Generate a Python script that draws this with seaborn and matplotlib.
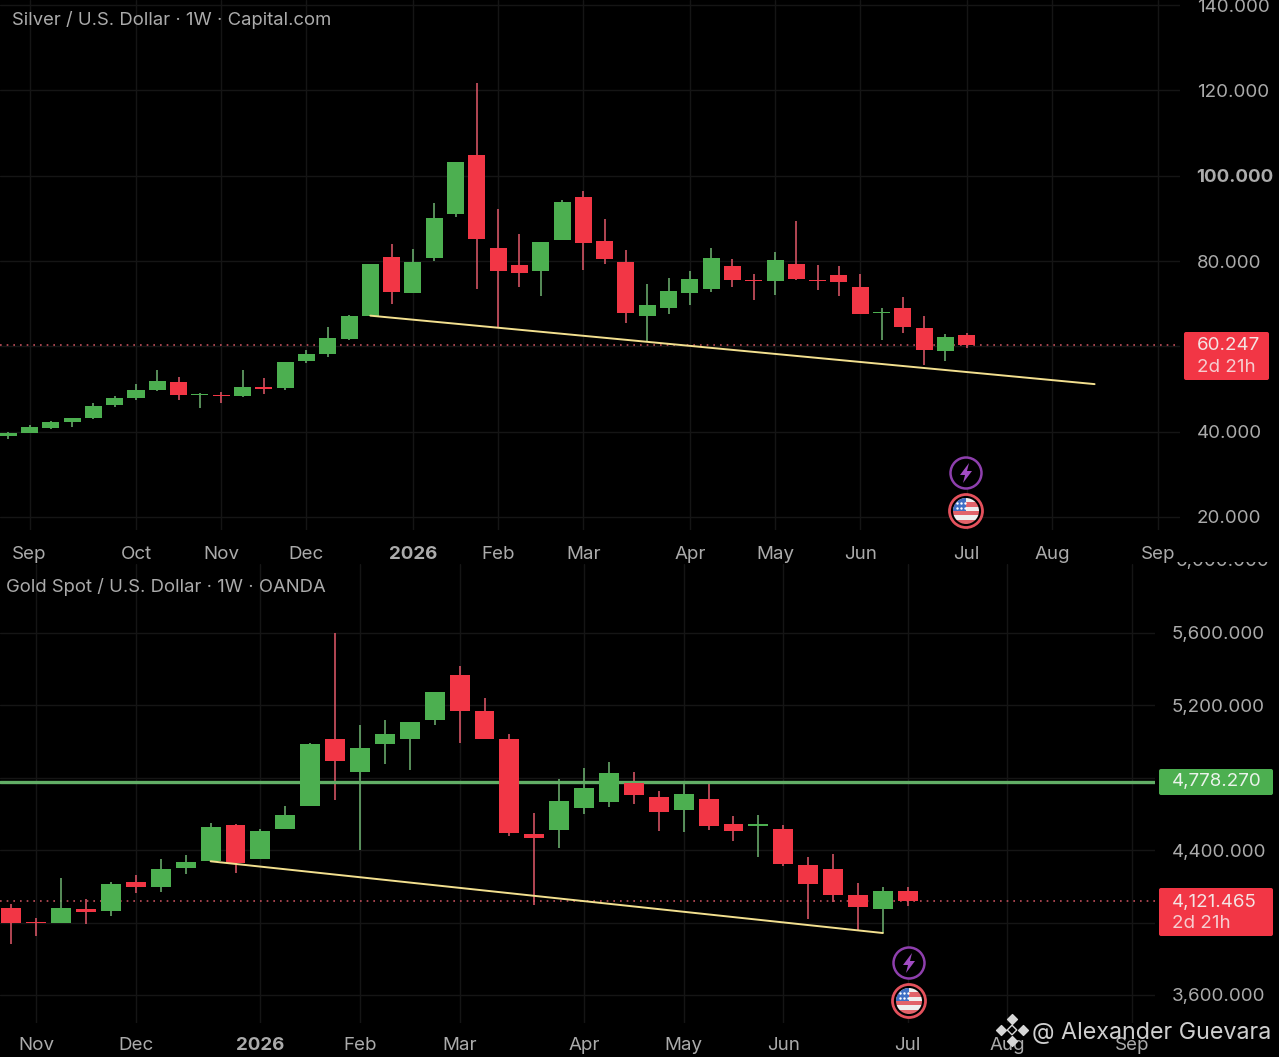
import pandas as pd
import seaborn as sns
from matplotlib import pyplot as plt
from matplotlib.patches import Circle, FancyBboxPatch, Polygon, Rectangle
from matplotlib.ticker import FixedFormatter, FixedLocator
from matplotlib.transforms import Bbox, TransformedBbox

# silver, weekly
silver_open = [38.97, 39.75, 40.84, 42.17, 43.10, 46.15, 47.87, 49.74, 51.69, 48.57, 48.57, 48.26,
               50.36, 50.13, 56.61, 58.25, 61.68, 67.22, 81.04, 72.53, 80.65, 91.11, 104.77, 83.15,
               79.01, 77.69, 84.95, 95.02, 84.71, 79.87, 67.15, 69.03, 72.46, 73.55, 78.94, 75.66,
               75.43, 79.41, 75.66, 76.75, 74.02, 67.85, 69.10, 64.19, 58.80, 62.55]
silver_close = [39.67, 41.07, 42.17, 43.10, 46.07, 47.94, 49.82, 51.77, 48.57, 48.88, 48.26, 50.44,
                49.90, 56.37, 58.25, 61.99, 67.15, 79.25, 72.77, 79.87, 90.10, 103.21, 85.18, 77.76,
                77.30, 84.56, 93.84, 84.32, 80.57, 67.93, 69.73, 73.01, 75.90, 80.74, 75.58, 75.35,
                80.27, 75.82, 75.43, 75.11, 67.70, 68.17, 64.65, 59.19, 62.31, 60.25]
silver_high = [39.98, 41.46, 42.40, 43.26, 46.62, 48.33, 51.14, 54.50, 52.78, 49.11, 49.27, 54.42,
               52.47, 56.37, 59.26, 64.57, 67.38, 79.25, 83.93, 82.84, 93.61, 103.21, 121.71, 92.28,
               86.35, 84.56, 94.24, 96.34, 89.94, 82.60, 74.57, 76.13, 77.69, 83.00, 80.58, 76.99,
               82.06, 89.40, 79.02, 78.86, 76.99, 68.95, 71.60, 67.07, 62.86, 63.17]
silver_low = [38.19, 39.67, 40.61, 41.00, 43.03, 45.84, 47.40, 49.58, 47.48, 45.60, 46.77, 48.18,
              48.72, 49.66, 56.14, 57.55, 61.60, 67.15, 70.04, 72.45, 79.95, 90.41, 73.55, 64.41,
              73.86, 71.83, 84.87, 78.00, 79.40, 65.51, 61.06, 67.70, 69.81, 72.69, 73.94, 70.82,
              72.15, 75.66, 73.16, 71.84, 67.62, 61.45, 63.25, 55.60, 56.54, 59.50]
silver_months = ['Sep', 'Oct', 'Nov', 'Dec', '2026', 'Feb', 'Mar', 'Apr', 'May', 'Jun', 'Jul', 'Aug', 'Sep']
silver_month_pos = [1, 6, 10, 14, 19, 23, 27, 32, 36, 40, 45, 49, 54]
silver_grid = [20, 40, 60, 80, 100, 120, 140]
silver_labels = ['20.000', '40.000', '', '80.000', '100.000', '120.000', '140.000']
silver_trend_x = [17, 51]
silver_trend_y = [67.2, 51.15]
silver_last = 60.247

# gold, weekly
gold_open = [4082, 4003, 3999, 4077, 4064, 4224, 4194, 4299, 4338, 4540, 4351, 4516, 4645, 5013, 4829,
             4986, 5011, 5116, 5366, 5170, 5011, 4489, 4508, 4632, 4664, 4772, 4691, 4620, 4680, 4543,
             4535, 4517, 4317, 4297, 4153, 4074, 4175]
gold_close = [3997, 3996, 4082, 4060, 4213, 4194, 4296, 4334, 4529, 4327, 4507, 4592, 4984, 4890, 4962,
              5039, 5105, 5274, 5166, 5015, 4492, 4468, 4673, 4742, 4826, 4702, 4610, 4709, 4535, 4504,
              4543, 4321, 4215, 4153, 4085, 4173, 4121]
gold_high = [4102, 4027, 4244, 4130, 4224, 4261, 4351, 4373, 4548, 4544, 4514, 4641, 4989, 5600, 5089,
             5118, 5105, 5274, 5416, 5238, 5043, 4603, 4794, 4852, 4885, 4830, 4726, 4766, 4762, 4587,
             4592, 4541, 4363, 4380, 4220, 4195, 4198]
gold_low = [3883, 3926, 3997, 3992, 4036, 4161, 4167, 4268, 4336, 4272, 4349, 4514, 4643, 4676, 4400,
            4875, 4840, 5089, 4993, 5011, 4476, 4097, 4414, 4598, 4640, 4653, 4504, 4499, 4508, 4449,
            4363, 4312, 4021, 4116, 3960, 3942, 4092]
gold_months = ['Nov', 'Dec', '2026', 'Feb', 'Mar', 'Apr', 'May', 'Jun', 'Jul', 'Aug', 'Sep']
gold_month_pos = [1, 5, 10, 14, 18, 23, 27, 31, 36, 40, 45]
gold_grid = [3600, 4000, 4400, 4800, 5200, 5600]
gold_labels = ['3,600.000', '', '4,400.000', '', '5,200.000', '5,600.000']
gold_trend_x = [8, 35]
gold_trend_y = [4338, 3942]
gold_last = 4121.465
gold_level = 4778.27

GREEN = '#4CAF50'
RED = '#F23645'
GREY = '#ABABAB'
TICK_SIZE = 13.5
W, H = 1279, 1057

sns.set_theme(style='dark', rc={'figure.facecolor': 'black', 'axes.facecolor': 'black', 'savefig.facecolor': 'black'})
plt.rcParams['font.family'] = ['Inter', 'DejaVu Sans']

fig = plt.figure(figsize=(W / 100, H / 100), dpi=100)


def panel(x1, y0, y1, xlim, ylim):
    # axes position given in pixels from the top left
    ax = fig.add_axes([0, 1 - y1 / H, x1 / W, (y1 - y0) / H])
    ax.set_xlim(*xlim)
    ax.set_ylim(*ylim)
    return ax


def candles(ax, o, c, h, l):
    df = pd.DataFrame({'week': range(len(o)), 'open': o, 'close': c, 'high': h, 'low': l})
    df['top'] = df[['open', 'close']].max(axis=1)
    df['bottom'] = df[['open', 'close']].min(axis=1)
    df['size'] = df['top'] - df['bottom']
    xlim, ylim = ax.get_xlim(), ax.get_ylim()
    for up, color, wick in [(True, GREEN, '#6FB572'), (False, RED, '#E2596A')]:
        part = df[(df['close'] >= df['open']) == up]
        ax.vlines(part['week'], part['low'], part['high'], color=wick, lw=1.1, zorder=3)
        sns.barplot(data=part, x='week', y='size', bottom=part['bottom'].values, native_scale=True,
                    color=color, saturation=1, width=0.8, errorbar=None, ax=ax, zorder=4, linewidth=0)
    ax.set_xlim(*xlim)
    ax.set_ylim(*ylim)


def dress(ax, months, month_pos, grid, labels, xpad):
    ax.yaxis.tick_right()
    ax.yaxis.set_major_locator(FixedLocator(grid))
    ax.yaxis.set_major_formatter(FixedFormatter(labels))
    ax.set_xticks(month_pos, months)
    ax.set_xlabel('')
    ax.set_ylabel('')
    ax.grid(True, color='#151515', lw=1.0)
    ax.set_axisbelow(True)
    ax.tick_params(axis='y', length=0, pad=12, labelsize=TICK_SIZE, labelcolor=GREY, right=False, labelright=True)
    ax.tick_params(axis='x', length=0, pad=xpad, labelsize=TICK_SIZE, labelcolor=GREY)
    for lab in ax.get_xticklabels() + ax.get_yticklabels():
        if lab.get_text() in ('2026', '100.000'):
            lab.set_fontweight('bold')
    sns.despine(ax=ax, left=True, bottom=True, top=True, right=True)


# silver panel
ax1 = panel(1180, 0, 530, (-0.385, 55.01), (16.95, 141.2))
candles(ax1, silver_open, silver_close, silver_high, silver_low)
dress(ax1, silver_months, silver_month_pos, silver_grid, silver_labels, 11.5)
ax1.axhline(silver_last, color='#C4505C', lw=1.2, ls=(0, (1, 3)), zorder=2)
sns.lineplot(x=silver_trend_x, y=silver_trend_y, color='#F3E08F', lw=1.4, ax=ax1, zorder=5)
ax1.set_xlabel('')
ax1.set_ylabel('')

# gold panel
ax2 = panel(1155, 564, 1023, (-0.46, 45.93), (3445.4, 5979))
candles(ax2, gold_open, gold_close, gold_high, gold_low)
dress(ax2, gold_months, gold_month_pos, gold_grid, gold_labels, 10)
ax2.axhline(gold_last, color='#C4505C', lw=1.2, ls=(0, (1, 3)), zorder=2)
ax2.axhline(gold_level, color='#62AE66', lw=2.4, zorder=3.5)
sns.lineplot(x=gold_trend_x, y=gold_trend_y, color='#F3E08F', lw=1.4, ax=ax2, zorder=5)
ax2.set_xlabel('')
ax2.set_ylabel('')

# pixel overlay for the price tags, titles and icons
ov = fig.add_axes([0, 0, 1, 1], facecolor='none')
ov.set_xlim(0, W)
ov.set_ylim(H, 0)
ov.axis('off')


def y_of(ax, value):
    return H - ax.transData.transform((0, value))[1]


def tag(x0, x1, y0, y1, color):
    ov.add_patch(FancyBboxPatch((x0 + 2, y0 + 2), x1 - x0 - 4, y1 - y0 - 4, boxstyle='round,pad=2',
                                fc=color, ec='none', zorder=6))


tag(1184, 1269, 332, 380, RED)
ov.text(1197, 346, '60.247', color='#F4E3E3', fontsize=TICK_SIZE, va='center', zorder=7)
ov.text(1197, 368, '2d 21h', color='#F6CDD0', fontsize=TICK_SIZE, va='center', zorder=7)
tag(1159, 1273, 769, 795, GREEN)
ov.text(1172, y_of(ax2, gold_level), '4,778.270', color='#EAF3EA', fontsize=TICK_SIZE, va='center', zorder=7)
tag(1159, 1273, 888, 936, RED)
ov.text(1172, 902.5, '4,121.465', color='#F4E3E3', fontsize=TICK_SIZE, va='center', zorder=7)
ov.text(1172, 923, '2d 21h', color='#F6CDD0', fontsize=TICK_SIZE, va='center', zorder=7)

ov.text(12, 20, 'Silver / U.S. Dollar · 1W · Capital.com', color=GREY, fontsize=13.3, va='center')
ov.text(6, 587, 'Gold Spot / U.S. Dollar · 1W · OANDA', color=GREY, fontsize=13.3, va='center')

# label of the 6,000 gold level, cut off by the silver panel
cut = ov.text(1176, y_of(ax2, 6000) + 1, '6,000.000', color=GREY, fontsize=TICK_SIZE, va='center', clip_on=True)
cut.set_clip_box(TransformedBbox(Bbox([[0, 0], [1, 1 - 562 / H]]), fig.transFigure))


def icons(cx, cy_bolt, cy_flag):
    ov.add_patch(Circle((cx, cy_bolt), 15.5, fc='black', ec='#8E3FAD', lw=1.8, zorder=6))
    bolt = [(3, -10), (-6, 2), (-1, 2), (-3, 10), (6, -2), (1, -2)]
    ov.add_patch(Polygon([(cx + a, cy_bolt + b) for a, b in bolt], fc='#A24CC4', ec='none', zorder=7))
    ov.add_patch(Circle((cx, cy_flag), 16.5, fc='black', ec='#E4515C', lw=2.0, zorder=6))
    clip = Circle((cx, cy_flag), 13, transform=ov.transData)
    for k in range(6):
        stripe = Rectangle((cx - 13, cy_flag - 13 + k * 26 / 6), 26, 26 / 6,
                           fc='#E2636A' if k % 2 else '#EFEFEF', ec='none', zorder=7)
        ov.add_patch(stripe)
        stripe.set_clip_path(clip)
    canton = Rectangle((cx - 13, cy_flag - 13), 13, 13, fc='#3F6FC4', ec='none', zorder=8)
    ov.add_patch(canton)
    canton.set_clip_path(clip)
    ov.scatter([cx + a for a in (-9, -5, -1, -9, -5, -1)], [cy_flag + b for b in (-8, -8, -8, -3, -3, -3)],
               s=3, color='white', linewidth=0, zorder=9)


icons(966, 473, 511)
icons(909, 963, 1001)

# watermark
for dx, dy, s in [(0, -11, 36), (-11, 0, 36), (11, 0, 36), (0, 11, 36), (0, 0, 34)]:
    ov.scatter(1012 + dx, 1030 + dy, marker='D', s=s * 0.7, fc='none' if s == 34 else '#D6D6D6',
               ec='#D6D6D6', lw=1.0, zorder=8)
ov.text(1032, 1033, '@ Alexander Guevara', color='#CFCFCF', fontsize=16.8, va='center', zorder=8)

fig.savefig('out.png', dpi=100)
